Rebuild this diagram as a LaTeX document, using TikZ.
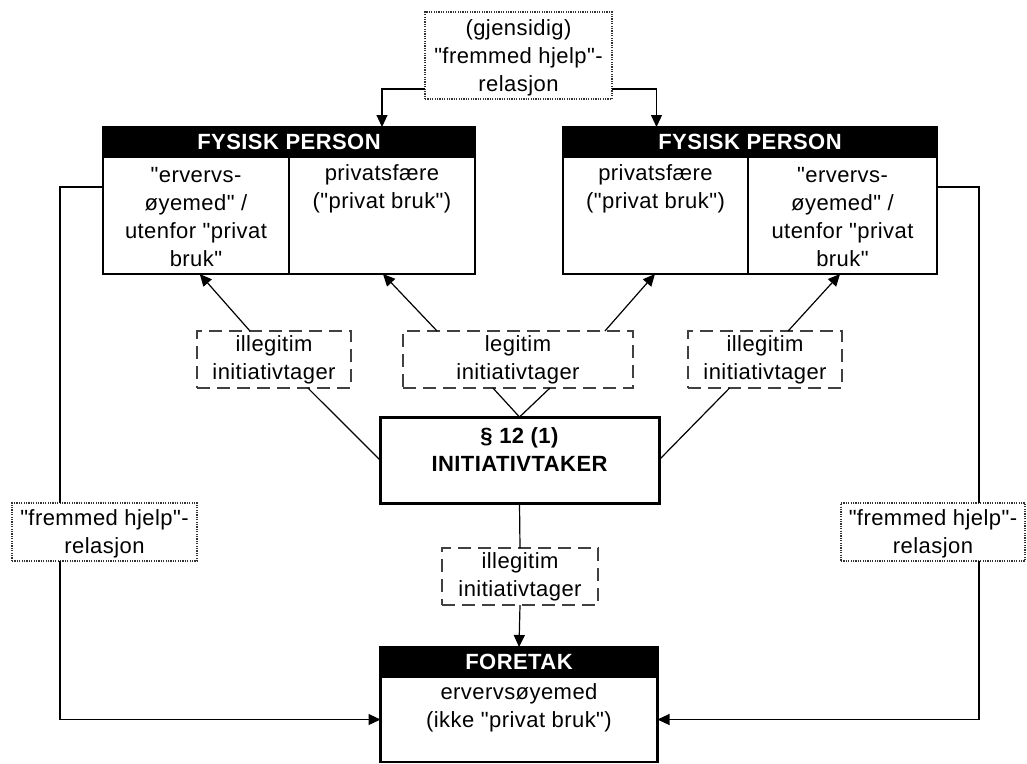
\documentclass[tikz,border=0pt]{standalone}
\usepackage{fontspec}
\setmainfont{Liberation Sans}[Ligatures=TeXOff,LetterSpace=2]
\usetikzlibrary{arrows.meta,calc}
\newcommand{\dq}{"}
\begin{document}
\begin{tikzpicture}[x=1pt,y=-1pt,
  every node/.style={font=\fontsize{22}{28}\selectfont, inner sep=0pt, outer sep=0pt, align=center},
  box/.style={draw, line width=2.2pt},
  hdr/.style={draw, line width=2.2pt, fill=black, text=white, font=\fontsize{22}{28}\selectfont\bfseries},
  dotbox/.style={draw=black!80, fill=white, dash pattern=on 1.2pt off 1.2pt, line width=1.5pt},
  dashbox/.style={draw=black!75, dash pattern=on 13pt off 7pt, line width=1.9pt},
  conn/.style={line width=1.2pt},
  arr/.style={conn, -{Triangle[length=12pt,width=11pt]}},
  txt/.style={}
]
\useasboundingbox (0,0) rectangle (1027,763);

% top dotted label
\node[dotbox, minimum width=187pt, minimum height=87pt] (top) at (518.5,55.5) {};
\node[txt] (toptxt) at (518.5,58) {(gjensidig)\\\dq fremmed hjelp\dq-\\relasjon};

% left person
\node[hdr, minimum width=372pt, minimum height=30pt] (lh) at (289,142) {FYSISK PERSON};
\node[box, minimum width=186pt, minimum height=117pt] (lA) at (196,215.5) {};
\node[box, minimum width=186pt, minimum height=117pt] (lB) at (382,215.5) {};
\node[txt] (lAt) at (196,217) {\dq ervervs-\\øyemed\dq{} /\\utenfor \dq privat\\bruk\dq};
\node[txt] (lBt) at (382,189) {privatsfære\\(\dq privat bruk\dq)};

% right person
\node[hdr, minimum width=374pt, minimum height=30pt] (rh) at (750,142) {FYSISK PERSON};
\node[box, minimum width=185pt, minimum height=117pt] (rA) at (655.5,215.5) {};
\node[box, minimum width=189pt, minimum height=117pt] (rB) at (842.5,215.5) {};
\node[txt] (rAt) at (655.5,189) {privatsfære\\(\dq privat bruk\dq)};
\node[txt] (rBt) at (842.5,217) {\dq ervervs-\\øyemed\dq{} /\\utenfor \dq privat\\bruk\dq};

% dashed boxes
\node[dashbox, minimum width=154pt, minimum height=57pt] (il1) at (274,359.5) {illegitim\\initiativtager};
\node[dashbox, minimum width=230pt, minimum height=57pt] (lg) at (518,359.5) {legitim\\initiativtager};
\node[dashbox, minimum width=154pt, minimum height=57pt] (il2) at (765,359.5) {illegitim\\initiativtager};

% central
\node[draw, line width=3pt, minimum width=279pt, minimum height=86pt] (c) at (519.5,460) {};
\node[txt, font=\fontsize{22}{28}\selectfont\bfseries] (ct) at (519.5,450) {§ 12 (1)\\INITIATIVTAKER};

% bottom dashed
\node[dashbox, minimum width=156pt, minimum height=57pt] (ib) at (520,576.5) {illegitim\\initiativtager};

% foretak
\node[hdr, minimum width=277pt, minimum height=30pt] (fh) at (519,662) {FORETAK};
\node[box, minimum width=277pt, minimum height=85pt] (fb) at (519,719.5) {};
\node[txt] (fbt) at (519,707.5) {ervervsøyemed\\(ikke \dq privat bruk\dq)};

% side dotted labels
\node[dotbox, minimum width=185pt, minimum height=58pt] (fr1) at (104.5,532) {};
\node[txt] (fr1t) at (104.5,534) {\dq fremmed hjelp\dq-\\relasjon};
\node[dotbox, minimum width=184pt, minimum height=58pt] (fr2) at (933,532) {};
\node[txt] (fr2t) at (933,534) {\dq fremmed hjelp\dq-\\relasjon};

% connectors top
\draw[arr] ($(top.south west)+(0,-10)$) -| ($(lh.north west)!0.75!(lh.north east)$);
\draw[arr] ($(top.south east)+(0,-10)$) -| ($(rh.north west)!0.25!(rh.north east)$);

% to persons
\draw[arr] ($(il1.north west)!0.344!(il1.north east)$) -- ($(lA.south west)!0.52!(lA.south east)$);
\draw[arr] ($(lg.north west)!0.148!(lg.north east)$) -- ($(lB.south west)!0.505!(lB.south east)$);
\draw[arr] ($(lg.north west)!0.878!(lg.north east)$) -- ($(rA.south west)!0.497!(rA.south east)$);
\draw[arr] ($(il2.north west)!0.65!(il2.north east)$) -- ($(rB.south west)!0.487!(rB.south east)$);

% to central
\draw[conn] ($(il1.south west)!0.72!(il1.south east)$) -- (c.west);
\draw[conn] ($(lg.south west)!0.391!(lg.south east)$) -- (c.north);
\draw[conn] ($(lg.south west)!0.639!(lg.south east)$) -- (c.north);
\draw[conn] ($(il2.south west)!0.27!(il2.south east)$) -- (c.east);
\draw[conn] (c.south) -- (ib.north);
\draw[arr] (ib.south) -- (fh.north);

% sides
\draw[conn] ($(lA.north west)+(0,30)$) -| ($(fr1.north west)!0.26!(fr1.north east)$);
\draw[arr] ($(fr1.south west)!0.26!(fr1.south east)$) |- (fb.west);
\draw[conn] ($(rB.north east)+(0,30)$) -| ($(fr2.north west)!0.75!(fr2.north east)$);
\draw[arr] ($(fr2.south west)!0.75!(fr2.south east)$) |- (fb.east);
\end{tikzpicture}
\end{document}
